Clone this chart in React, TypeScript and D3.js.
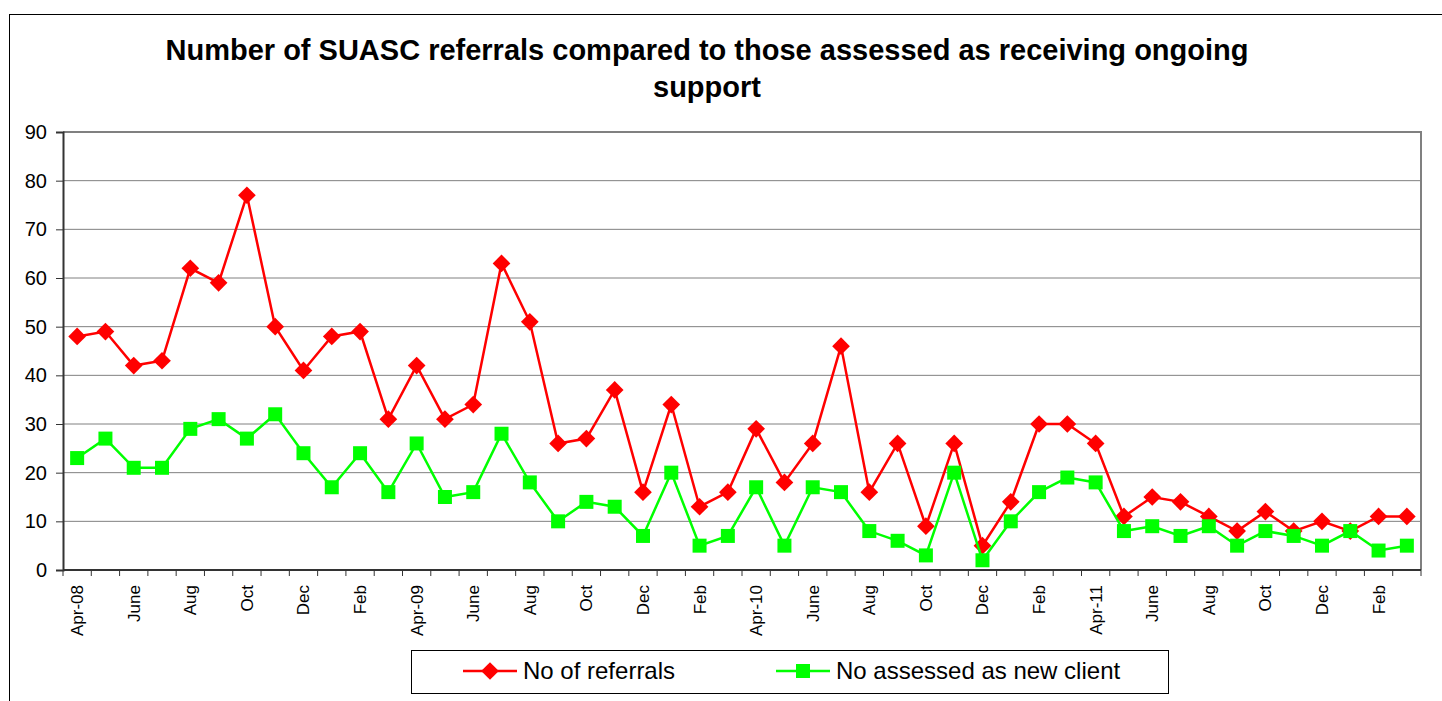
import React, { useEffect, useRef } from 'react'
import * as d3 from 'd3'

// monthly categories, Apr-08 .. Mar-12
const months: string[] = [
    'Apr-08', 'May', 'June', 'Jul', 'Aug', 'Sep', 'Oct', 'Nov', 'Dec', 'Jan', 'Feb', 'Mar',
    'Apr-09', 'May', 'June', 'Jul', 'Aug', 'Sep', 'Oct', 'Nov', 'Dec', 'Jan', 'Feb', 'Mar',
    'Apr-10', 'May', 'June', 'Jul', 'Aug', 'Sep', 'Oct', 'Nov', 'Dec', 'Jan', 'Feb', 'Mar',
    'Apr-11', 'May', 'June', 'Jul', 'Aug', 'Sep', 'Oct', 'Nov', 'Dec', 'Jan', 'Feb', 'Mar',
]

const referrals: number[] = [
    48, 49, 42, 43, 62, 59, 77, 50, 41, 48, 49, 31,
    42, 31, 34, 63, 51, 26, 27, 37, 16, 34, 13, 16,
    29, 18, 26, 46, 16, 26, 9, 26, 5, 14, 30, 30,
    26, 11, 15, 14, 11, 8, 12, 8, 10, 8, 11, 11,
]

const assessed: number[] = [
    23, 27, 21, 21, 29, 31, 27, 32, 24, 17, 24, 16,
    26, 15, 16, 28, 18, 10, 14, 13, 7, 20, 5, 7,
    17, 5, 17, 16, 8, 6, 3, 20, 2, 10, 16, 19,
    18, 8, 9, 7, 9, 5, 8, 7, 5, 8, 4, 5,
]

const yTicks: number[] = [0, 10, 20, 30, 40, 50, 60, 70, 80, 90]

const titleLines: string[] = [
    'Number of SUASC referrals compared to those assessed as receiving ongoing',
    'support',
]

const W = 1442
const H = 701
const margin = { top: 132, bottom: 131, left: 63, right: 21 }
const width = W - margin.left - margin.right
const height = H - margin.top - margin.bottom
const font = 'Arial, "Liberation Sans", Helvetica, sans-serif'

export default function App() {
    const ref = useRef<SVGSVGElement>(null)

    useEffect(() => {
        const svg = d3.select(ref.current)
        svg.selectAll('*').remove()

        // outer chart border
        svg.append('rect')
            .attr('x', 9.5).attr('y', 14.5)
            .attr('width', W).attr('height', H)
            .attr('fill', 'white').attr('stroke', 'black')

        svg.append('g')
            .selectAll('text')
            .data(titleLines)
            .join('text')
            .attr('x', 707)
            .attr('y', (d, i) => 60 + i * 37)
            .attr('text-anchor', 'middle')
            .attr('font-family', font)
            .attr('font-weight', 'bold')
            .attr('font-size', 29)
            .text(d => d)

        const g = svg.append('g')
            .attr('transform', `translate(${margin.left}, ${margin.top})`)

        const idx = months.map((_, i) => i)
        const x = d3.scaleBand<number>().domain(idx).range([0, width])
        const cx = (i: number) => (x(i) as number) + x.bandwidth() / 2
        const y = d3.scaleLinear().domain([0, 90]).range([height, 0])

        // gridlines
        g.append('g')
            .selectAll('line')
            .data(yTicks.filter(t => t > 0))
            .join('line')
            .attr('x1', 0).attr('x2', width)
            .attr('y1', d => y(d)).attr('y2', d => y(d))
            .attr('stroke', '#808080').attr('stroke-width', 1)

        // plot frame (top & right)
        g.append('path')
            .attr('d', `M0,0H${width}V${height}`)
            .attr('fill', 'none')
            .attr('stroke', '#808080').attr('stroke-width', 2)

        // y axis
        const yAxis = g.append('g').call(
            d3.axisLeft(y).tickValues(yTicks).tickSize(7).tickPadding(9)
        )
        yAxis.select('.domain').attr('stroke', '#333').attr('stroke-width', 2)
        yAxis.selectAll('.tick line').attr('stroke', '#333')
        yAxis.selectAll('.tick text')
            .attr('font-family', font).attr('font-size', 20).attr('fill', 'black')

        // x axis: ticks on band edges
        const xAxisG = g.append('g').attr('transform', `translate(0, ${height})`)
        xAxisG.append('line')
            .attr('x1', 0).attr('x2', width)
            .attr('stroke', '#333').attr('stroke-width', 2)
        xAxisG.selectAll('line.tk')
            .data(d3.range(months.length + 1))
            .join('line')
            .attr('class', 'tk')
            .attr('x1', i => i * x.step()).attr('x2', i => i * x.step())
            .attr('y1', 0).attr('y2', 6)
            .attr('stroke', '#333')
        xAxisG.selectAll('text')
            .data(idx.filter(i => i % 2 === 0))
            .join('text')
            .attr('transform', i => `translate(${cx(i)}, 15) rotate(-90)`)
            .attr('dy', '0.35em')
            .attr('text-anchor', 'end')
            .attr('font-family', font)
            .attr('font-size', 17)
            .text(i => months[i])

        const series = [
            { values: referrals, color: '#FF0000', shape: d3.symbolDiamond2 },
            { values: assessed, color: '#00FF00', shape: d3.symbolSquare },
        ]

        const line = d3.line<number>()
            .x((_, i) => cx(i))
            .y(d => y(d))

        series.forEach(s => {
            g.append('path')
                .datum(s.values)
                .attr('d', line)
                .attr('fill', 'none')
                .attr('stroke', s.color)
                .attr('stroke-width', 2.5)
            g.append('g')
                .selectAll('path')
                .data(s.values)
                .join('path')
                .attr('transform', (d, i) => `translate(${cx(i)}, ${y(d)})`)
                .attr('d', d3.symbol().type(s.shape).size(s.shape === d3.symbolSquare ? 196 : 200)())
                .attr('fill', s.color)
        })

        // legend
        const leg = svg.append('g')
        leg.append('rect')
            .attr('x', 411.5).attr('y', 650.5)
            .attr('width', 757).attr('height', 43)
            .attr('fill', 'white').attr('stroke', 'black')
        const items = [
            { label: 'No of referrals', x0: 463, color: '#FF0000', shape: d3.symbolDiamond2 },
            { label: 'No assessed as new client', x0: 776, color: '#00FF00', shape: d3.symbolSquare },
        ]
        items.forEach(it => {
            leg.append('line')
                .attr('x1', it.x0).attr('x2', it.x0 + 54)
                .attr('y1', 671).attr('y2', 671)
                .attr('stroke', it.color).attr('stroke-width', 2.5)
            leg.append('path')
                .attr('transform', `translate(${it.x0 + 27}, 671)`)
                .attr('d', d3.symbol().type(it.shape).size(it.shape === d3.symbolSquare ? 196 : 200)())
                .attr('fill', it.color)
            leg.append('text')
                .attr('x', it.x0 + 60).attr('y', 671)
                .attr('dy', '0.35em')
                .attr('font-family', font)
                .attr('font-size', 24)
                .text(it.label)
        })
    }, [])

    return (
        <svg ref={ref} width={W} height={H}
            style={{ position: 'absolute', left: 0, top: 0, display: 'block' }} />
    )
}
